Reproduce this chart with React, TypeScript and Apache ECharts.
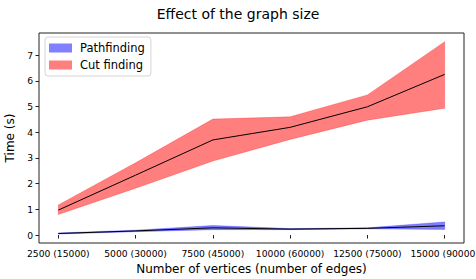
import React, { useEffect, useRef } from "react";
import * as echarts from "echarts";

const vertices = [2500, 5000, 7500, 10000, 12500, 15000];
const edges = [15000, 30000, 45000, 60000, 75000, 90000];
const yTicks = [0, 1, 2, 3, 4, 5, 6, 7];

const pathMean = [0.06, 0.16, 0.28, 0.23, 0.26, 0.36];
const pathLow = [0.04, 0.13, 0.21, 0.21, 0.24, 0.22];
const pathHigh = [0.08, 0.19, 0.37, 0.25, 0.28, 0.51];

const cutMean = [0.97, 2.33, 3.7, 4.19, 4.99, 6.25];
const cutLow = [0.8, 1.82, 2.88, 3.72, 4.47, 4.93];
const cutHigh = [1.17, 2.81, 4.51, 4.6, 5.45, 7.52];

const FONT = "DejaVu Sans";

function bandSeries(name: string, low: number[], high: number[], color: string) {
  const data = vertices.map((v, i) => [v, low[i], high[i]]);
  return {
    name,
    type: "custom",
    itemStyle: { color },
    data,
    encode: { x: 0, y: [1, 2] },
    renderItem: (params: any, api: any) => {
      if (params.dataIndex !== 0) return null;
      const top = vertices.map((v, i) => api.coord([v, high[i]]));
      const bot = vertices.map((v, i) => api.coord([v, low[i]])).reverse();
      return {
        type: "polygon",
        shape: { points: top.concat(bot) },
        style: { fill: color, stroke: color, lineWidth: 0.5 },
      };
    },
    z: 1,
  };
}

function meanSeries(name: string, mean: number[]) {
  return {
    name,
    type: "line",
    data: vertices.map((v, i) => [v, mean[i]]),
    showSymbol: false,
    symbol: "none",
    lineStyle: { color: "#000", width: 1 },
    itemStyle: { color: "#000" },
    z: 3,
  };
}

export default function App() {
  const ref = useRef<HTMLDivElement>(null);
  useEffect(() => {
    if (!ref.current) return;
    const chart = echarts.init(ref.current, null, { renderer: "svg" });
    chart.setOption({
      animation: false,
      textStyle: { fontFamily: FONT },
      title: {
        text: "Effect of the graph size",
        left: "center",
        top: 2,
        textStyle: { fontFamily: FONT, fontSize: 14, fontWeight: "normal", color: "#000" },
      },
      legend: {
        orient: "vertical",
        left: 45,
        top: 37,
        data: [
          { name: "Pathfinding", icon: "rect", itemStyle: { color: "rgba(0,0,255,0.5)" } },
          { name: "Cut finding", icon: "rect", itemStyle: { color: "rgba(255,0,0,0.5)" } },
        ],
        itemWidth: 23,
        itemHeight: 9,
        itemGap: 5,
        textStyle: { fontFamily: FONT, fontSize: 11.5, color: "#000", padding: [0, 0, 0, 3] },
        borderColor: "#d5d5d5",
        borderWidth: 1,
        borderRadius: 3,
        padding: [5, 6, 5, 4],
        backgroundColor: "rgba(255,255,255,0.8)",
      },
      grid: {
        left: 39,
        right: 12,
        top: 33,
        bottom: 36,
        show: true,
        borderColor: "#222",
        borderWidth: 1,
        containLabel: false,
        outerBoundsMode: "none",
      },
      xAxis: {
        type: "value",
        min: 1875,
        max: 15625,
        name: "Number of vertices (number of edges)",
        nameLocation: "middle",
        nameGap: 20,
        nameTextStyle: { fontFamily: FONT, fontSize: 12, color: "#000" },
        axisLine: { show: false },
        splitLine: { show: false },
        axisTick: { show: true, length: 3.5, lineStyle: { color: "#222" }, customValues: vertices },
        axisLabel: {
          customValues: vertices,
          margin: 6,
          fontFamily: FONT,
          fontSize: 9.2,
          color: "#000",
          hideOverlap: false,
          formatter: (v: number) => {
            const i = vertices.indexOf(v);
            return i >= 0 ? `${v} (${edges[i]})` : "";
          },
        },
      },
      yAxis: {
        type: "value",
        min: -0.31,
        max: 7.86,
        name: "Time (s)",
        nameLocation: "middle",
        nameGap: 18,
        nameTextStyle: { fontFamily: FONT, fontSize: 12, color: "#000" },
        axisLine: { show: false },
        splitLine: { show: false },
        axisTick: { show: true, length: 3.5, lineStyle: { color: "#222" }, customValues: yTicks },
        axisLabel: {
          customValues: yTicks,
          margin: 6,
          fontFamily: FONT,
          fontSize: 9.2,
          color: "#000",
        },
      },
      series: [
        bandSeries("Pathfinding", pathLow, pathHigh, "rgba(0,0,255,0.5)"),
        bandSeries("Cut finding", cutLow, cutHigh, "rgba(255,0,0,0.5)"),
        meanSeries("pathMean", pathMean),
        meanSeries("cutMean", cutMean),
      ],
    });
    return () => chart.dispose();
  }, []);
  return <div ref={ref} style={{ width: 476, height: 279, position: "absolute", left: 0, top: 0 }} />;
}
